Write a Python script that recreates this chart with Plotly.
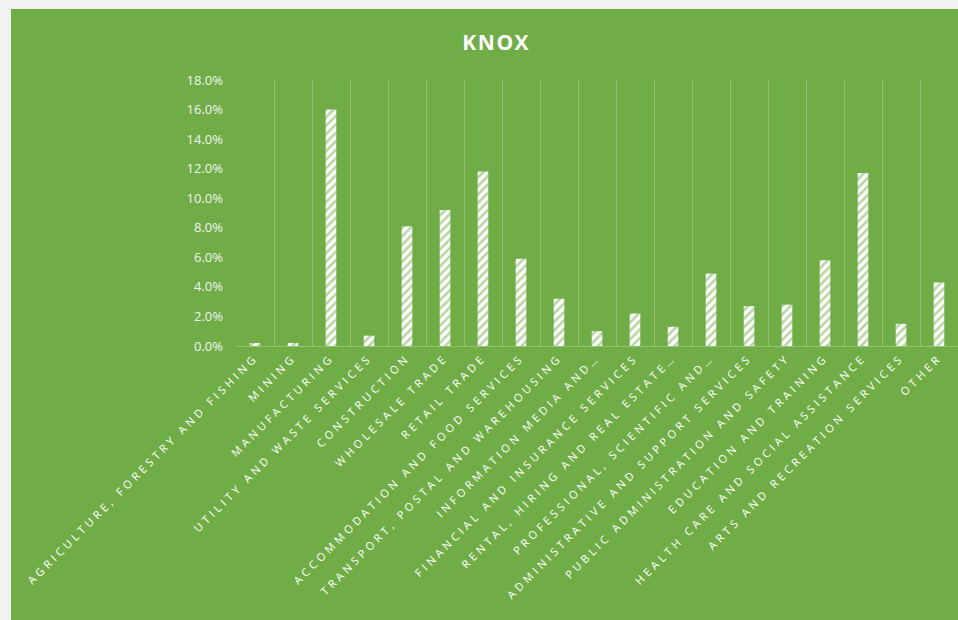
import plotly.graph_objects as go

categories = [
    "AGRICULTURE, FORESTRY AND FISHING",
    "MINING",
    "MANUFACTURING",
    "UTILITY AND WASTE SERVICES",
    "CONSTRUCTION",
    "WHOLESALE TRADE",
    "RETAIL TRADE",
    "ACCOMMODATION AND FOOD SERVICES",
    "TRANSPORT, POSTAL AND WAREHOUSING",
    "INFORMATION MEDIA AND…",
    "FINANCIAL AND INSURANCE SERVICES",
    "RENTAL, HIRING AND REAL ESTATE…",
    "PROFESSIONAL, SCIENTIFIC AND…",
    "ADMINISTRATIVE AND SUPPORT SERVICES",
    "PUBLIC ADMINISTRATION AND SAFETY",
    "EDUCATION AND TRAINING",
    "HEALTH CARE AND SOCIAL ASSISTANCE",
    "ARTS AND RECREATION SERVICES",
    "OTHER",
]
shares_pct = [0.2, 0.2, 16.0, 0.7, 8.1, 9.2, 11.8, 5.9, 3.2, 1.0,
              2.2, 1.3, 4.9, 2.7, 2.8, 5.8, 11.7, 1.5, 4.3]
title_text = "KNOX"

GREEN = "#70AD47"
GRID = "rgba(255,255,255,0.25)"

W, H = 958, 620
ML, MR, MT, MB = 236, 0, 80, 274
pw, ph = W - ML - MR, H - MT - MB

fig = go.Figure(go.Bar(
    x=categories,
    y=[v / 100 for v in shares_pct],
    marker=dict(
        color="white",
        line=dict(width=0),
        pattern=dict(shape="/", fgcolor=GREEN, size=6, solidity=0.42),
    ),
    hoverinfo="x+y",
))

fig.add_shape(
    type="rect", xref="paper", yref="paper", layer="below",
    x0=(11 - ML) / pw, x1=1.05,
    y0=-(H - MT - ph + 20) / ph, y1=(MT + ph - 9) / ph,
    fillcolor=GREEN, line=dict(width=0),
)

fig.update_layout(
    width=W, height=H,
    margin=dict(l=ML, r=MR, t=MT, b=MB, autoexpand=False),
    paper_bgcolor="#F2F2F2",
    plot_bgcolor=GREEN,
    bargap=0.72,
    showlegend=False,
    title=dict(
        text="<b>" + title_text + "</b>",
        x=0.518, xref="container", xanchor="center",
        y=1 - 43 / H, yref="container", yanchor="middle",
        font=dict(family="Open Sans", size=21, color="white"),
    ),
    font=dict(family="Open Sans", color="#F2F2F2"),
    xaxis=dict(
        type="category",
        tickangle=-45,
        tickson="boundaries",
        showgrid=True, gridcolor=GRID, gridwidth=1,
        showline=True, linecolor=GRID, linewidth=1,
        ticks="", automargin=False,
        tickfont=dict(family="Open Sans", size=11, color="white"),
        range=[-0.5, len(categories) - 0.5],
    ),
    yaxis=dict(
        range=[0, 0.18], dtick=0.02, tickformat=".1%",
        showgrid=False, zeroline=False, showline=False,
        ticks="", automargin=False, ticklabelstandoff=12,
        tickfont=dict(family="Open Sans", size=13, color="#F2F2F2"),
    ),
)

post = """
document.body.style.margin='0';
var s=document.createElement('style');
s.textContent='.xtick text{letter-spacing:3.6px} .gtitle{letter-spacing:1.5px}';
document.head.appendChild(s);
"""

fig.write_html("out.html", post_script=post, config={"displayModeBar": False})
